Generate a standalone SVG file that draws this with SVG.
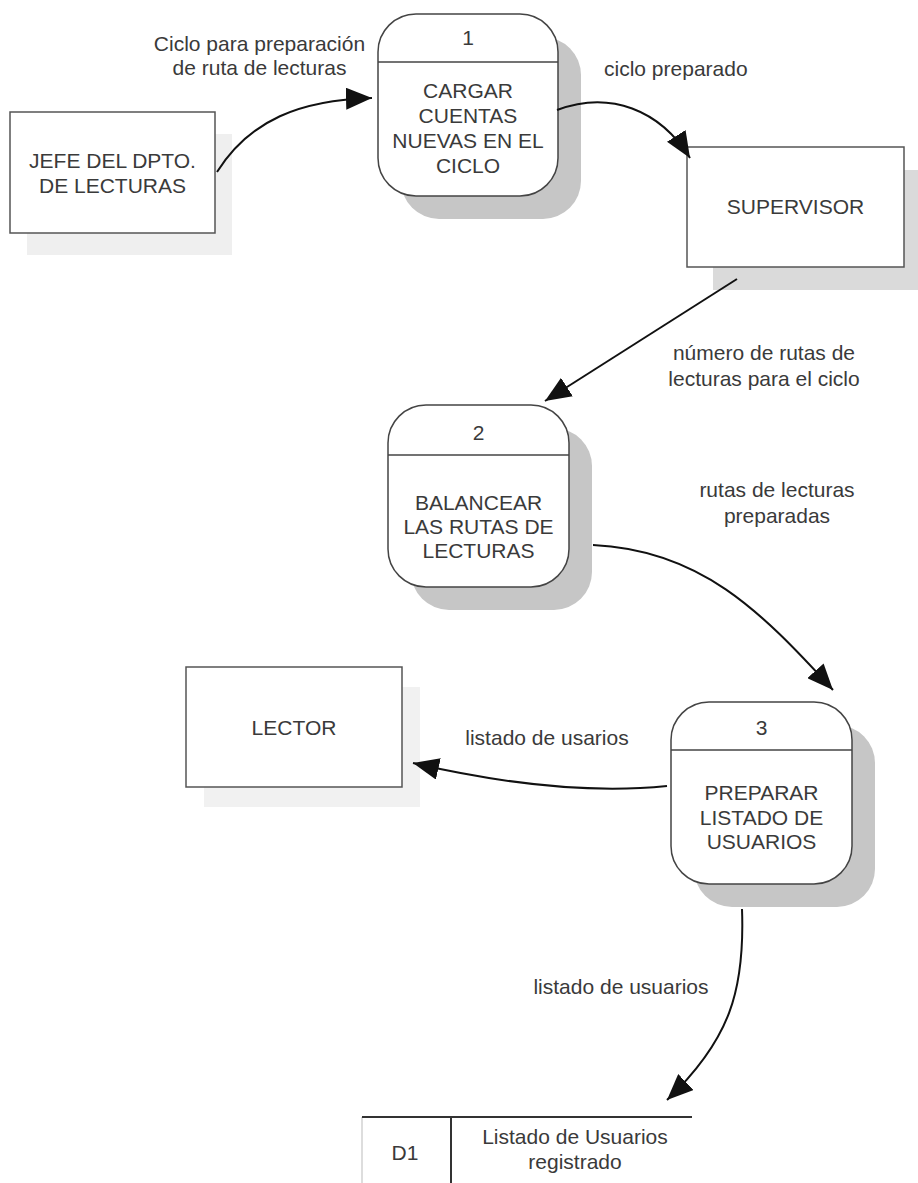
<svg xmlns="http://www.w3.org/2000/svg" width="918" height="1183" viewBox="0 0 918 1183">
<defs>
<style>
text{font-family:"Liberation Sans",Arial,sans-serif;font-size:21px;fill:#3a3a3a;}
.c{text-anchor:middle;}
.box{fill:#fff;stroke:#555;stroke-width:1.5;}
.proc{fill:#fff;stroke:#444;stroke-width:1.5;}
.pshadow{fill:#c6c6c6;}
.div{stroke:#444;stroke-width:1.5;}
.flow{fill:none;stroke:#111;stroke-width:2;marker-end:url(#ah);}
</style>
<marker id="ah" markerUnits="userSpaceOnUse" markerWidth="28" markerHeight="22" refX="26" refY="11" orient="auto">
<path d="M0,0 L26,11 L0,22 z" fill="#111"/>
</marker>
</defs>
<rect width="918" height="1183" fill="#fff"/>

<g id="jefe">
<rect x="27" y="134" width="205" height="121" fill="#efefef"/>
<rect class="box" x="10" y="112" width="205" height="121"/>
<text class="c" x="112.5" y="167.5">JEFE DEL DPTO.</text>
<text class="c" x="112.5" y="192.5">DE LECTURAS</text>
</g>

<g id="p1">
<rect class="pshadow" x="401" y="37" width="180" height="182" rx="38"/>
<rect class="proc" x="378" y="14" width="180" height="182" rx="38"/>
<line class="div" x1="378" y1="62" x2="558" y2="62"/>
<text class="c" x="468" y="45">1</text>
<text class="c" x="468" y="97.5">CARGAR</text>
<text class="c" x="468" y="122.5">CUENTAS</text>
<text class="c" x="468" y="148">NUEVAS EN EL</text>
<text class="c" x="468" y="173">CICLO</text>
</g>

<g id="supervisor">
<rect x="713" y="170" width="217" height="120" fill="#dadada"/>
<rect class="box" x="687" y="147" width="217" height="120"/>
<text class="c" x="795.5" y="213.5">SUPERVISOR</text>
</g>

<g id="p2">
<rect class="pshadow" x="411" y="428" width="181" height="182" rx="38"/>
<rect class="proc" x="388" y="405" width="181" height="182" rx="38"/>
<line class="div" x1="388" y1="455" x2="569" y2="455"/>
<text class="c" x="478.5" y="440">2</text>
<text class="c" x="478.5" y="510">BALANCEAR</text>
<text class="c" x="478.5" y="534">LAS RUTAS DE</text>
<text class="c" x="478.5" y="558">LECTURAS</text>
</g>

<g id="lector">
<rect x="204" y="687" width="216" height="120" fill="#f1f1f1"/>
<rect class="box" x="186" y="667" width="216" height="120"/>
<text class="c" x="294" y="734.5">LECTOR</text>
</g>

<g id="p3">
<rect class="pshadow" x="694" y="725" width="181" height="182" rx="38"/>
<rect class="proc" x="671" y="702" width="181" height="182" rx="38"/>
<line class="div" x1="671" y1="750" x2="852" y2="750"/>
<text class="c" x="761.5" y="735">3</text>
<text class="c" x="761.5" y="800">PREPARAR</text>
<text class="c" x="761.5" y="825">LISTADO DE</text>
<text class="c" x="761.5" y="849">USUARIOS</text>
</g>

<g id="d1">
<line x1="362" y1="1117" x2="362" y2="1183" stroke="#bbb" stroke-width="1"/>
<line x1="362" y1="1117" x2="692" y2="1117" stroke="#333" stroke-width="2"/>
<line x1="451" y1="1117" x2="451" y2="1183" stroke="#333" stroke-width="2"/>
<text class="c" x="405" y="1160">D1</text>
<text class="c" x="575" y="1144">Listado de Usuarios</text>
<text class="c" x="575" y="1169">registrado</text>
</g>

<g id="connectors">
<path class="flow" d="M217 172 C250 120 300 100 372 98"/>
<path class="flow" d="M557 110 C610 90 660 110 690 158"/>
<path class="flow" d="M737 279 L545 401"/>
<path class="flow" d="M593 545 C700 550 760 610 833 690"/>
<path class="flow" d="M667 786 Q560 797 413 763"/>
<path class="flow" d="M742 909 C745 990 730 1040 667 1100"/>
</g>

<g id="labels">
<text class="c" x="259.5" y="50.5">Ciclo para preparación</text>
<text class="c" x="259.5" y="74.5">de ruta de lecturas</text>
<text x="604" y="76">ciclo preparado</text>
<text class="c" x="764" y="360">número de rutas de</text>
<text class="c" x="764" y="386">lecturas para el ciclo</text>
<text class="c" x="777" y="497">rutas de lecturas</text>
<text class="c" x="777" y="523">preparadas</text>
<text class="c" x="547" y="745">listado de usarios</text>
<text class="c" x="621" y="994">listado de usuarios</text>
</g>
</svg>
